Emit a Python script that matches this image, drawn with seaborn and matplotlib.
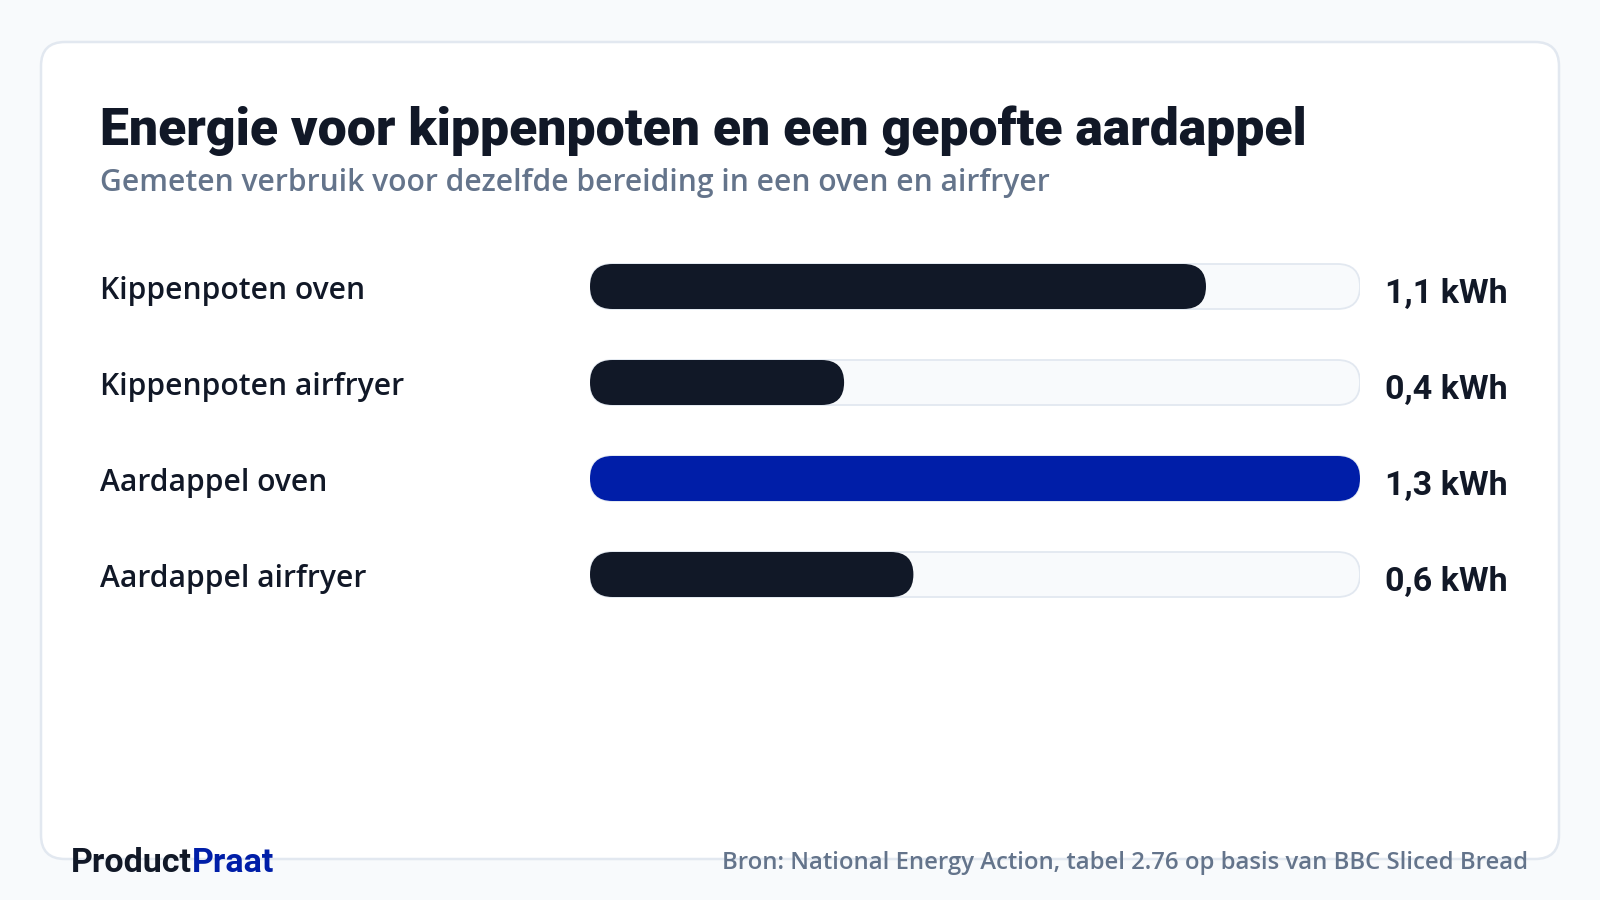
import matplotlib
matplotlib.use("Agg")
import matplotlib.pyplot as plt
import matplotlib.transforms as mtransforms
from matplotlib.patches import FancyBboxPatch
import seaborn as sns
import pandas as pd

# ---------------- data ----------------
categories = ["Kippenpoten oven", "Kippenpoten airfryer", "Aardappel oven", "Aardappel airfryer"]
bar_share = [80, 33, 100, 42]          # bar length, % of the track
value_labels = ["1,1 kWh", "0,4 kWh", "1,3 kWh", "0,6 kWh"]
groups = ["normaal", "normaal", "hoogste", "normaal"]
track_max = [100, 100, 100, 100]

title = "Energie voor kippenpoten en een gepofte aardappel"
subtitle = "Gemeten verbruik voor dezelfde bereiding in een oven en airfryer"
source = "Bron: National Energy Action, tabel 2.76 op basis van BBC Sliced Bread"
brand_a, brand_b = "Product", "Praat"

# ---------------- style ----------------
DARK = "#111827"
BLUE = "#001ea8"
SLATE = "#64748b"
BORDER = "#e2e8f0"
BG = "#f8fafc"

W, H = 1600, 900
sns.set_theme(style="white")
plt.rcParams["font.family"] = ["Open Sans", "DejaVu Sans"]

fig = plt.figure(figsize=(16, 9), dpi=100, facecolor=BG)


def fx(px):
    return px / W


def fy(py):
    return 1 - py / H


# card
card = FancyBboxPatch((fx(41), fy(859)), fx(1559) - fx(41), fy(42) - fy(859),
                      boxstyle="round,pad=0,rounding_size=%f" % (24 / W),
                      mutation_aspect=W / H, transform=fig.transFigure,
                      facecolor="white", edgecolor=BORDER, linewidth=1.8, zorder=-5)
fig.patches.append(card)

# axes for bars
x0, x1 = 590, 1360
row_top, row_step = 238.5, 96
ax = fig.add_axes([fx(x0), fy(row_top + 4 * row_step), (x1 - x0) / W, 4 * row_step / H])
ax.set_facecolor("none")
ax.set_zorder(2)

df = pd.DataFrame({"cat": categories, "share": bar_share, "track": track_max, "grp": groups})

bar_h = 45 / row_step
px_per_x = (x1 - x0) / 100.0
aspect = px_per_x / row_step
rad = 22.5 / px_per_x


def round_patches(patches, **kw):
    for p in patches:
        x, y, w, h = p.get_x(), p.get_y(), p.get_width(), p.get_height()
        fc = p.get_facecolor()
        p.remove()
        fp = FancyBboxPatch((x, y), w, h,
                            boxstyle="round,pad=0,rounding_size=%f" % rad,
                            mutation_aspect=aspect, facecolor=fc, **kw)
        ax.add_patch(fp)


sns.barplot(data=df, x="track", y="cat", color=BG, width=bar_h, ax=ax,
            saturation=1, orient="h")
track_patches = list(ax.patches)
round_patches(track_patches, edgecolor=BORDER, linewidth=1.3, zorder=1)

before = set(ax.patches)
sns.barplot(data=df, x="share", y="cat", hue="grp",
            palette={"normaal": DARK, "hoogste": BLUE}, dodge=False,
            width=bar_h, ax=ax, saturation=1, legend=False, orient="h")
new_patches = [p for p in ax.patches if p not in before and p.get_width() > 0]
round_patches(new_patches, edgecolor="none", linewidth=0, zorder=2)

ax.set_xlim(0, 100)
ax.set_ylim(3.5, -0.5)
ax.axis("off")

# labels
blend = mtransforms.blended_transform_factory(fig.transFigure, ax.transData)
for i, (cat, lab) in enumerate(zip(categories, value_labels)):
    ax.text(fx(100), i + 12.5 / row_step, cat, transform=blend, ha="left", va="baseline",
            fontsize=21.6, fontweight="semibold", color=DARK, family=["Open Sans", "DejaVu Sans"])
    ax.text(fx(1385), i + 16.5 / row_step, lab, transform=blend, ha="left", va="baseline",
            fontsize=24.5, fontweight="bold", color=DARK, family=["Roboto", "DejaVu Sans"])

# title and subtitle
fig.text(fx(100), fy(145), title, ha="left", va="baseline", fontsize=37.3,
         fontweight="heavy", color=DARK, family=["Roboto", "DejaVu Sans"])
fig.text(fx(100), fy(191), subtitle, ha="left", va="baseline", fontsize=21.6,
         fontweight="semibold", color=SLATE, family=["Open Sans", "DejaVu Sans"])

# footer
fig.text(fx(1528), fy(869), source, ha="right", va="baseline", fontsize=17.2,
         fontweight="semibold", color=SLATE, family=["Open Sans", "DejaVu Sans"])
t1 = fig.text(fx(71), fy(872), brand_a, ha="left", va="baseline", fontsize=24.5,
              fontweight="bold", color=DARK, family=["Roboto", "DejaVu Sans"])
fig.canvas.draw()
bb = t1.get_window_extent()
fig.text(bb.x1 / W, fy(872), brand_b, ha="left", va="baseline", fontsize=24.5,
         fontweight="bold", color=BLUE, family=["Roboto", "DejaVu Sans"])

fig.savefig("out.png", dpi=100, facecolor=BG)
